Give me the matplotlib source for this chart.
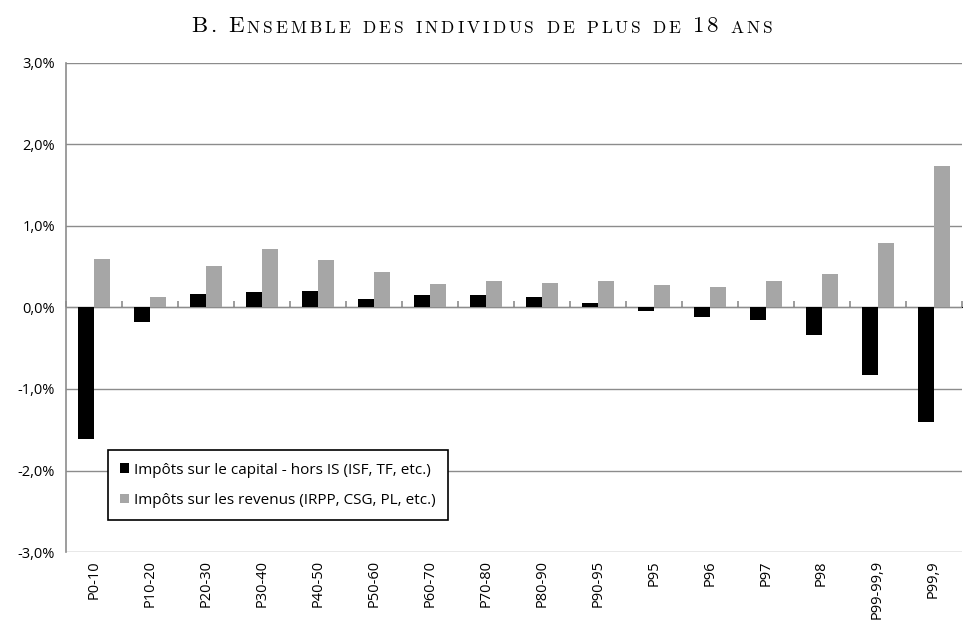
import numpy as np
import matplotlib
matplotlib.use("Agg")
import matplotlib.pyplot as plt

# données (en %)
categories = ["P0-10", "P10-20", "P20-30", "P30-40", "P40-50", "P50-60", "P60-70",
              "P70-80", "P80-90", "P90-95", "P95", "P96", "P97", "P98",
              "P99-99,9", "P99,9"]
capital = [-1.61, -0.18, 0.17, 0.19, 0.20, 0.11, 0.155, 0.155, 0.13, 0.06,
           -0.045, -0.12, -0.15, -0.34, -0.83, -1.41]
revenus = [0.60, 0.13, 0.51, 0.72, 0.58, 0.44, 0.29, 0.32, 0.30, 0.33,
           0.27, 0.25, 0.33, 0.41, 0.79, 1.73]
yticks = [-3, -2, -1, 0, 1, 2, 3]
ytick_labels = ["-3,0%", "-2,0%", "-1,0%", "0,0%", "1,0%", "2,0%", "3,0%"]
noms = ["Impôts sur le capital - hors IS (ISF, TF, etc.)",
        "Impôts sur les revenus (IRPP, CSG, PL, etc.)"]
titre = "B. Ensemble des individus de plus de 18 ans"

plt.rcParams["font.family"] = ["Open Sans", "DejaVu Sans"]
plt.rcParams["font.size"] = 10.5

fig = plt.figure(figsize=(9.63, 6.26), dpi=100)
ax = fig.add_axes([0.0685, 0.1182, 0.93, 0.7812])

x = np.arange(len(categories))
w = 0.285
ax.bar(x - w / 2, capital, w, color="black", label=noms[0], zorder=3)
ax.bar(x + w / 2, revenus, w, color="#a6a6a6", label=noms[1], zorder=3)

ax.set_xlim(-0.5, len(categories) - 0.5)
ax.set_ylim(-3, 3)
ax.set_yticks(yticks)
ax.set_yticklabels(ytick_labels)
ax.yaxis.grid(True, color="#8c8c8c", linewidth=1.0, zorder=0)
ax.tick_params(axis="y", length=0, pad=8)

ax.set_xticks(x)
ax.set_xticklabels(categories, rotation=90)
ax.tick_params(axis="x", length=0, pad=6)

for s in ["top", "right", "bottom"]:
    ax.spines[s].set_visible(False)
ax.spines["left"].set_color("#8c8c8c")
ax.spines["left"].set_linewidth(1.2)

# axe horizontal à 0 avec petites graduations entre catégories
sec = ax.secondary_xaxis(0.5)
sec.set_xticks(np.arange(len(categories) + 1) - 0.5)
sec.set_xticklabels([])
sec.tick_params(length=4, color="#8c8c8c", width=1.2)
sec.spines["bottom"].set_color("#8c8c8c")
sec.spines["bottom"].set_linewidth(1.5)

leg = ax.legend(loc="lower left", bbox_to_anchor=(0.047, 0.065), borderaxespad=0,
                fancybox=False, edgecolor="black", fontsize=11,
                handlelength=0.6, handleheight=0.6, handletextpad=0.3,
                labelspacing=1.0, borderpad=0.8, framealpha=1)
leg.get_frame().set_linewidth(1.2)

# titre en petites capitales (simulées lettre par lettre)
txts = []
prev = None
for c in titre:
    big = c.isupper() or c.isdigit() or c == "."
    size = 16.5 if big else 12.5
    if prev is None:
        t = fig.text(0, 0.949, c.upper(), fontsize=size, family="cmr10", va="baseline")
    else:
        t = ax.annotate(c.upper(), xy=(1, 0), xycoords=prev, xytext=(2.2, 0),
                        textcoords="offset points", fontsize=size,
                        family="cmr10", va="bottom", annotation_clip=False)
    txts.append(t)
    prev = t
fig.canvas.draw()
r = fig.canvas.get_renderer()
x0 = txts[0].get_window_extent(r).x0
x1 = txts[-1].get_window_extent(r).x1
width = (x1 - x0) / fig.bbox.width
txts[0].set_x(0.5 - width / 2)

fig.savefig("out.png", dpi=100)
